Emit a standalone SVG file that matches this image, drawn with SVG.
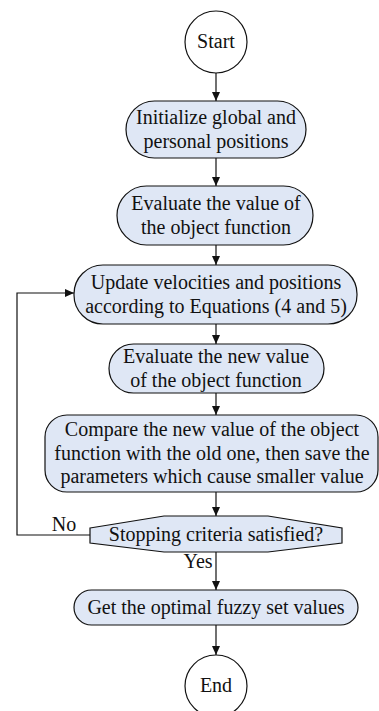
<svg xmlns="http://www.w3.org/2000/svg" width="379" height="711" viewBox="0 0 379 711">
<style>
.n{fill:#dfe7f5;stroke:#111;stroke-width:1.2}
.c{fill:#fff;stroke:#111;stroke-width:1.2}
text{font-family:"Liberation Serif","Times New Roman",serif;font-size:20px;fill:#111;text-anchor:middle}
.l{stroke:#111;stroke-width:1.2;fill:none}
</style>
<defs>
<marker id="ah" markerUnits="userSpaceOnUse" markerWidth="10" markerHeight="8" refX="9" refY="4" orient="auto">
<path d="M0,0 L9,4 L0,8 z" fill="#111"/>
</marker>
</defs>
<g id="connectors">
<line class="l" x1="216" y1="73" x2="216" y2="101" marker-end="url(#ah)"/>
<line class="l" x1="216" y1="158" x2="216" y2="186" marker-end="url(#ah)"/>
<line class="l" x1="216" y1="245" x2="216" y2="265" marker-end="url(#ah)"/>
<line class="l" x1="216" y1="324" x2="216" y2="344" marker-end="url(#ah)"/>
<line class="l" x1="216" y1="393" x2="216" y2="415" marker-end="url(#ah)"/>
<line class="l" x1="216" y1="492" x2="216" y2="516" marker-end="url(#ah)"/>
<line class="l" x1="216" y1="552" x2="216" y2="590" marker-end="url(#ah)"/>
<line class="l" x1="216" y1="625" x2="216" y2="655" marker-end="url(#ah)"/>
<polyline class="l" points="90,535 17,535 17,293 74,293" marker-end="url(#ah)"/>
<text x="64" y="531">No</text>
<text x="198" y="568">Yes</text>
</g>
<g id="start">
<circle class="c" cx="216" cy="42" r="31"/>
<text x="216" y="48">Start</text>
</g>
<g id="init">
<rect class="n" x="126" y="101" width="180" height="57" rx="28.5"/>
<text x="216" y="124">Initialize global and</text>
<text x="216" y="148">personal positions</text>
</g>
<g id="eval1">
<rect class="n" x="117" y="186" width="196" height="59" rx="29.5"/>
<text x="216" y="210">Evaluate the value of</text>
<text x="216" y="234">the object function</text>
</g>
<g id="update">
<rect class="n" x="74" y="265" width="283" height="59" rx="29"/>
<text x="216" y="289">Update velocities and positions</text>
<text x="216" y="313">according to Equations (4 and 5)</text>
</g>
<g id="eval2">
<rect class="n" x="109" y="344" width="215" height="49" rx="24.5"/>
<text x="216" y="363">Evaluate the new value</text>
<text x="216" y="387">of the object function</text>
</g>
<g id="compare">
<rect class="n" x="45" y="415" width="333" height="77" rx="22"/>
<text x="212" y="436">Compare the new value of the object</text>
<text x="212" y="459.5">function with the old one, then save the</text>
<text x="212" y="483">parameters which cause smaller value</text>
</g>
<g id="decision">
<polygon class="n" points="90,528 164,516 268,516 342,528 342,543 268,552 164,552 90,543"/>
<text x="216" y="541">Stopping criteria satisfied?</text>
</g>
<g id="getopt">
<rect class="n" x="74" y="590" width="284" height="35" rx="17.5"/>
<text x="216" y="614">Get the optimal fuzzy set values</text>
</g>
<g id="end">
<circle class="c" cx="216" cy="686" r="31"/>
<text x="216" y="692">End</text>
</g>
</svg>
